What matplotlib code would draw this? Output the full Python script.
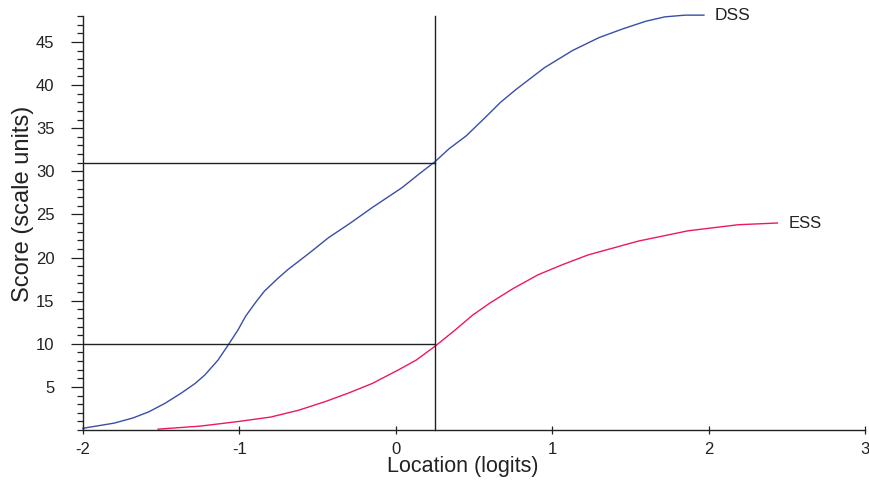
import matplotlib
matplotlib.use("Agg")
import matplotlib.pyplot as plt
from matplotlib.ticker import MultipleLocator, FixedLocator

plt.rcParams['font.family'] = ['Liberation Sans', 'DejaVu Sans']
plt.rcParams['axes.unicode_minus'] = False

# Data
dss_x = [-2.0, -1.8, -1.68, -1.58, -1.475, -1.37, -1.283, -1.22, -1.137, -1.07,
         -1.009, -0.96, -0.892, -0.84, -0.753, -0.69, -0.604, -0.54,
         -0.43, -0.29, -0.15, 0.04, 0.15, 0.25, 0.34, 0.45, 0.57, 0.67,
         0.77, 0.95, 1.13, 1.3, 1.45, 1.6, 1.72, 1.85, 1.97]
dss_y = [0.2, 0.8, 1.4, 2.1, 3.1, 4.3, 5.4, 6.4, 8.1, 9.9,
         11.6, 13.2, 14.9, 16.1, 17.6, 18.6, 19.8, 20.7,
         22.3, 24.0, 25.8, 28.1, 29.7, 31.1, 32.6, 34.1, 36.2, 38.0,
         39.5, 42.0, 44.0, 45.5, 46.5, 47.4, 47.9, 48.1, 48.1]

ess_x = [-1.52, -1.25, -1.0, -0.8, -0.62, -0.45, -0.30, -0.15, 0.02, 0.13,
         0.25, 0.38, 0.49, 0.6, 0.75, 0.91, 1.07, 1.23, 1.39, 1.55,
         1.87, 2.19, 2.44]
ess_y = [0.1, 0.45, 1.0, 1.5, 2.3, 3.3, 4.3, 5.4, 7.0, 8.1,
         9.7, 11.6, 13.3, 14.7, 16.4, 18.0, 19.2, 20.3, 21.1, 21.9,
         23.1, 23.8, 24.0]

ref_location = 0.25
ref_scores = [31, 10]
x_ticks = [-2, -1, 0, 1, 2, 3]
y_ticks = [5, 10, 15, 20, 25, 30, 35, 40, 45]
labels = ["DSS", "ESS"]

fig = plt.figure(figsize=(8.69, 4.82), dpi=100)
ax = fig.add_axes([83/869, 52/482, 782/869, 414/482])

ax.plot(dss_x, dss_y, color='#3a4ea8', lw=1.0, clip_on=False, solid_joinstyle='round')
ax.plot(ess_x, ess_y, color='#ec1a5a', lw=1.0, clip_on=False, solid_joinstyle='round')

for s in ref_scores:
    ax.plot([-2, ref_location], [s, s], color='#222222', lw=1.0)
ax.plot([ref_location, ref_location], [0, 48], color='#222222', lw=1.0, clip_on=False)

ax.text(dss_x[-1] + 0.07, dss_y[-1], labels[0], fontsize=12.5, va='center', ha='left',
        color='#222222', clip_on=False)
ax.text(ess_x[-1] + 0.07, ess_y[-1], labels[1], fontsize=12, va='center', ha='left',
        color='#222222')

ax.set_xlim(-2, 3)
ax.set_ylim(0, 48)
for sp in ['top', 'right']:
    ax.spines[sp].set_visible(False)
for sp in ['left', 'bottom']:
    ax.spines[sp].set_linewidth(1.0)
    ax.spines[sp].set_color('#222222')

ax.xaxis.set_major_locator(FixedLocator(x_ticks))
ax.yaxis.set_major_locator(FixedLocator(y_ticks))
ax.yaxis.set_minor_locator(MultipleLocator(1))
ax.set_xticklabels([str(t) for t in x_ticks])
ax.set_yticklabels([str(t) for t in y_ticks])

ax.tick_params(axis='x', which='major', direction='inout', length=6, width=0.9,
               labelsize=12, pad=5.5, colors='#222222')
ax.tick_params(axis='y', which='major', direction='out', length=8.5, width=0.9,
               labelsize=12, pad=12, colors='#222222')
ax.tick_params(axis='y', which='minor', direction='out', length=4.3, width=0.9, colors='#222222')

ax.set_xlabel('Location (logits)', fontsize=15.5, color='#222222')
ax.set_ylabel('Score (scale units)', fontsize=17, color='#222222')
ax.xaxis.set_label_coords(0.486, -0.062)
ax.yaxis.set_label_coords(-0.063, 0.545)

fig.savefig('out.png', dpi=100)
